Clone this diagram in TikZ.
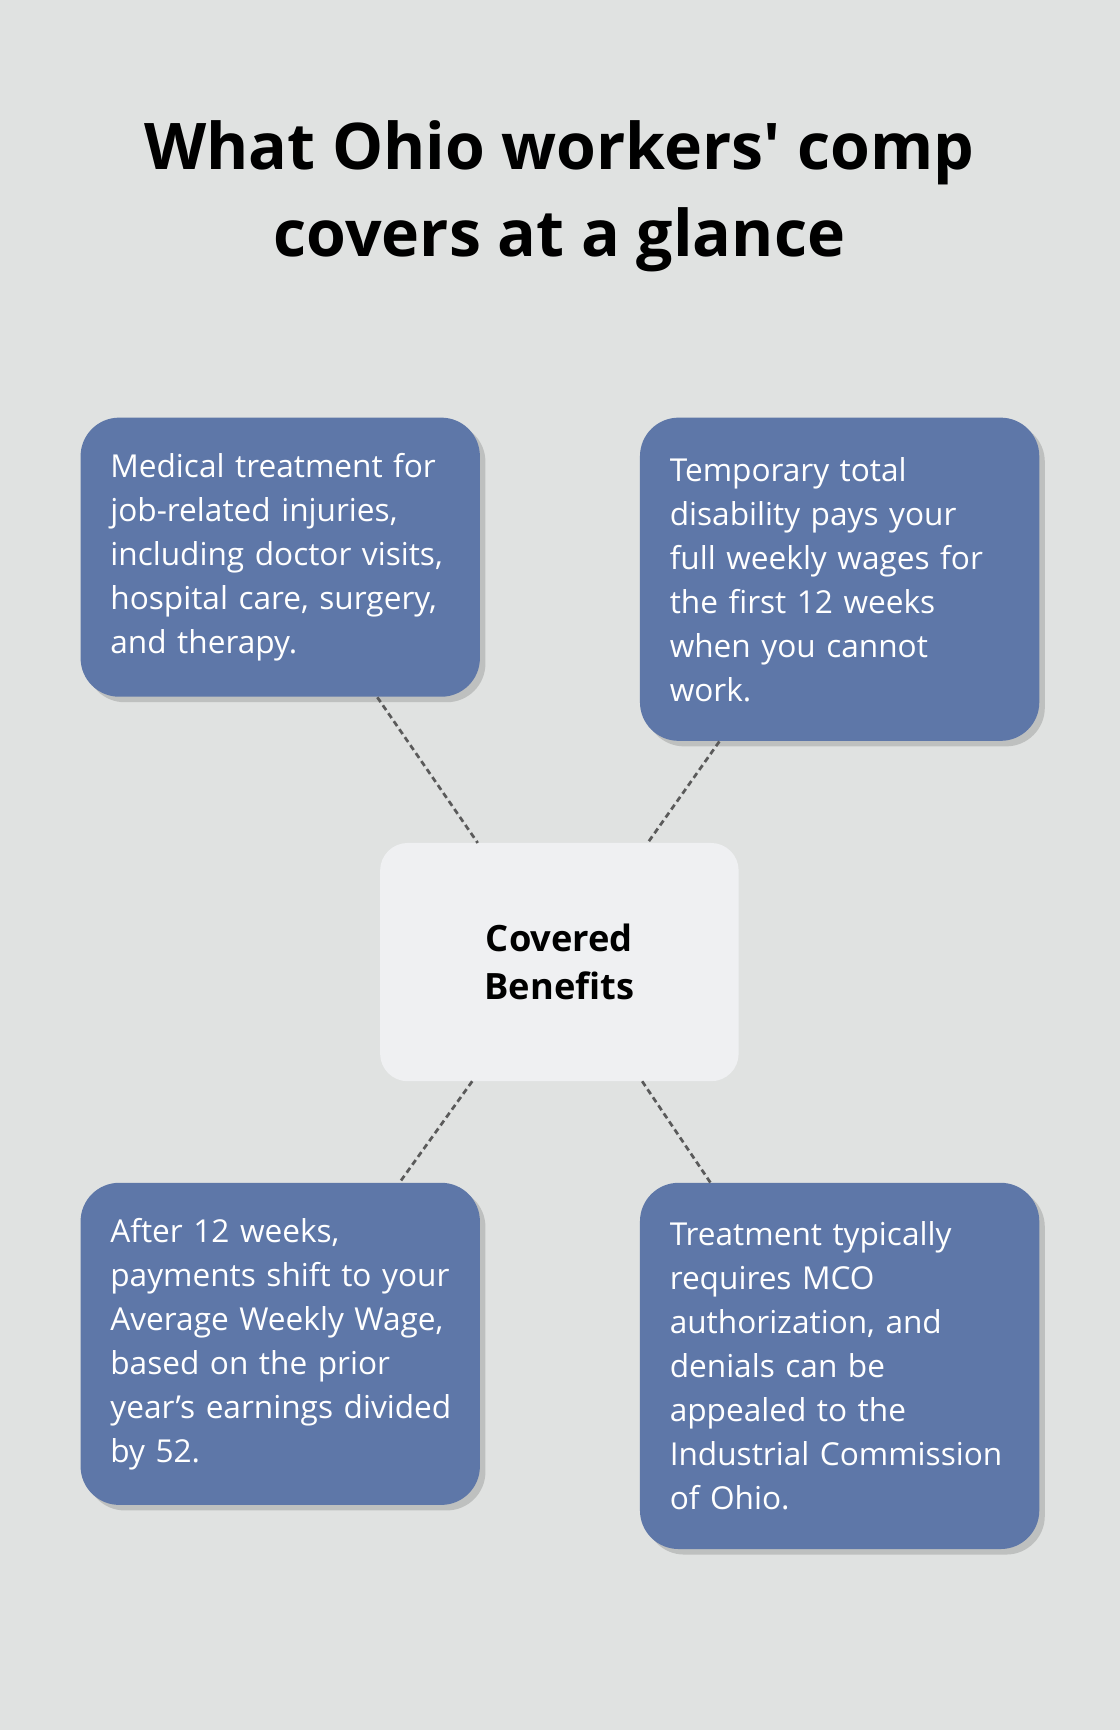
\documentclass[tikz,border=0pt]{standalone}
\usepackage{fontspec}
\setmainfont{Open Sans}
\usetikzlibrary{calc,positioning,shadows}
\definecolor{bgcol}{HTML}{E0E2E1}
\definecolor{boxcol}{HTML}{5E77A8}
\definecolor{hubcol}{HTML}{EFF0F2}
\definecolor{linkcol}{HTML}{5A5A5A}
\tikzset{
  benefit/.style={rectangle,rounded corners=0.7cm,fill=boxcol,text=white,
    minimum width=7.24cm,text width=6.16cm,align=left,inner sep=0pt,
    font=\fontsize{16.3}{22.7}\selectfont,
    drop shadow={shadow xshift=0.1cm,shadow yshift=-0.1cm,opacity=0.15,fill=black}},
  hub/.style={rectangle,rounded corners=0.5cm,fill=hubcol,minimum width=6.5cm,
    minimum height=4.32cm,align=center,font=\fontsize{18.7}{24.5}\selectfont\bfseries},
  link/.style={densely dashed,line width=1.4pt,linkcol}
}
\begin{document}
\begin{tikzpicture}[x=0.02cm,y=-0.02cm]
\fill[bgcol] (0,0) rectangle (1015,1568);
\useasboundingbox (0,0) rectangle (1015,1568);
\node[font=\fontsize{33.2}{45}\selectfont\bfseries,align=center] (title) at (507,178)
  {What Ohio workers\textquotesingle{} comp\\covers at a glance};
\node[hub] (hub) at (507,872) {Covered\\Benefits};
\node[benefit,minimum height=5.06cm] (medical) at (254,505)
  {Medical treatment for\\job-related injuries,\\including doctor visits,\\hospital care, surgery,\\and therapy.};
\node[benefit,minimum height=5.86cm] (temporary) at (761,525)
  {Temporary total\\disability pays your\\full weekly wages for\\the first 12 weeks\\when you cannot\\work.};
\node[benefit,minimum height=5.84cm] (average) at (254,1218)
  {After 12 weeks,\\payments shift to your\\Average Weekly Wage,\\based on the prior\\\mbox{year’s earnings divided}\\by 52.};
\node[benefit,minimum height=6.64cm] (treatment) at (761,1238)
  {Treatment typically\\requires MCO\\authorization, and\\denials can be\\appealed to the\\Industrial Commission\\of Ohio.};
\coordinate (m1) at (342,632); \coordinate (h1) at (433,764);
\coordinate (t1) at (652,672); \coordinate (h2) at (587,764);
\coordinate (a1) at (362,1072); \coordinate (h3) at (428,980);
\coordinate (r1) at (644,1072); \coordinate (h4) at (582,980);
\draw[link] (m1) -- (h1);
\draw[link] (t1) -- (h2);
\draw[link] (h3) -- (a1);
\draw[link] (h4) -- (r1);
\end{tikzpicture}
\end{document}
